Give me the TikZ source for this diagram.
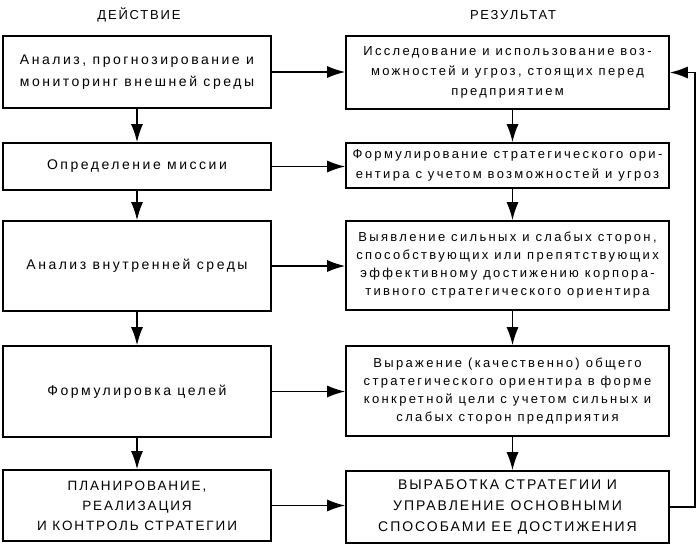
\documentclass[tikz,border=0pt]{standalone}
\usepackage{fontspec}
\setmainfont{Liberation Sans}[LetterSpace=18]
\newfontfamily\capsfont{Liberation Sans}[LetterSpace=14]
\usetikzlibrary{arrows.meta}

\tikzset{
  box/.style={draw, line width=1.6pt, align=center, inner sep=0pt,
    font=\fontsize{13}{20}\selectfont},
  actbox/.style={box, minimum width=268pt, font=\fontsize{14}{22}\selectfont},
  resbox/.style={box, minimum width=323pt},
  capsbox/.style={font=\capsfont\fontsize{14}{21}\selectfont},
  head/.style={font=\capsfont\fontsize{13}{15}\selectfont},
  arr/.style={line width=1.5pt, -{Latex[length=18pt,width=12pt]}},
}

\begin{document}
\begin{tikzpicture}[x=1pt,y=-1pt]
    \useasboundingbox (0,0) rectangle (700,548);
    %% headings
    \node[head] (hdact) at (139,15) {ДЕЙСТВИЕ};
    \node[head] (hdres) at (513,15) {РЕЗУЛЬТАТ};
    %% left column (actions)
    \node[actbox, minimum height=72pt] (act1) at (137,72)
        {Анализ, прогнозирование и\\мониторинг внешней среды};
    \node[actbox, minimum height=47pt] (act2) at (137,166.5) {Определение миссии};
    \node[actbox, minimum height=90pt] (act3) at (137,266) {Анализ внутренней среды};
    \node[actbox, minimum height=91pt] (act4) at (137,391.5) {Формулировка целей};
    \node[actbox, capsbox, minimum height=71pt, font=\capsfont\fontsize{13.5}{20}\selectfont] (act5) at (137,505.5)
        {ПЛАНИРОВАНИЕ,\\РЕАЛИЗАЦИЯ\\И КОНТРОЛЬ СТРАТЕГИИ};
    %% right column (results)
    \node[resbox, minimum height=73pt] (res1) at (507.5,72.5)
        {Исследование и использование воз-\\можностей и угроз, стоящих перед\\предприятием};
    \node[resbox, minimum height=45pt] (res2) at (507.5,165.5)
        {Формулирование стратегического ори-\\ентира с учетом возможностей и угроз};
    \node[resbox, minimum height=89pt, font=\fontsize{13}{18}\selectfont] (res3) at (507.5,265.5)
        {Выявление сильных и слабых сторон,\\способствующих или препятствующих\\эффективному достижению корпора-\\тивного стратегического ориентира};
    \node[resbox, minimum height=90pt, font=\fontsize{13}{18}\selectfont] (res4) at (507.5,391)
        {Выражение (качественно) общего\\стратегического ориентира в форме\\конкретной цели с учетом сильных и\\слабых сторон предприятия};
    \node[resbox, capsbox, minimum height=72pt] (res5) at (507.5,507)
        {ВЫРАБОТКА СТРАТЕГИИ И\\УПРАВЛЕНИЕ ОСНОВНЫМИ\\СПОСОБАМИ ЕЕ ДОСТИЖЕНИЯ};
    %% down the columns
    \foreach \a/\b in {1/2,2/3,3/4,4/5} {
        \draw[arr] (act\a) -- (act\b);
        \draw[arr] ([xshift=5pt]res\a.south) -- ([xshift=5pt]res\b.north);
        \draw[arr] (act\a.east) -- (act\a.east -| res\a.west);
    }
    \draw[arr] (act5.east) -- (act5.east -| res5.west);
    %% feedback loop
    \draw[arr] (res5.east) -- ++(25,0) |- (res1.east);
\end{tikzpicture}
\end{document}
